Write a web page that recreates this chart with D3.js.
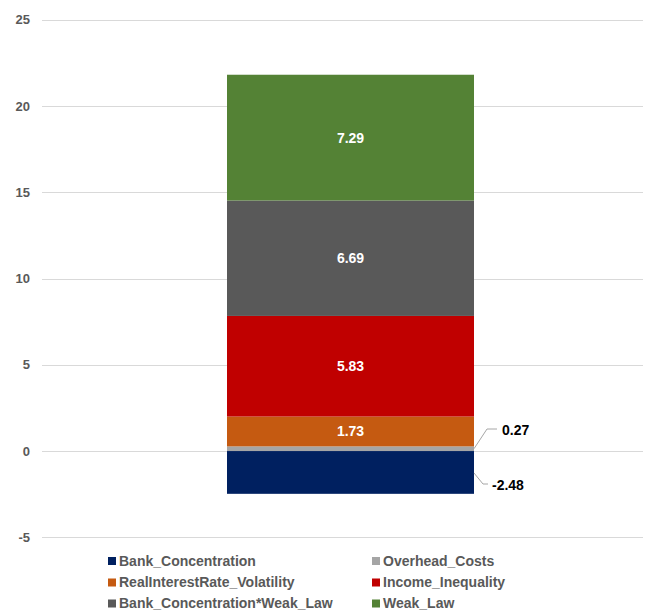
<!DOCTYPE html>
<html>
<head>
<meta charset="utf-8">
<script src="https://cdn.jsdelivr.net/npm/d3@7"></script>
<style>
  html, body { margin: 0; padding: 0; background: #fff; }
  svg { display: block; font-family: "Liberation Sans", Arial, sans-serif; }
</style>
</head>
<body>
<svg id="chart" width="645" height="610"></svg>
<script>
// Contribution components, stacked in this order
const seriesNames = [
  "Bank_Concentration",
  "Overhead_Costs",
  "RealInterestRate_Volatility",
  "Income_Inequality",
  "Bank_Concentration*Weak_Law",
  "Weak_Law"
];
const seriesValues = [-2.48, 0.27, 1.73, 5.83, 6.69, 7.29];
const seriesColors = ["#002060", "#a5a5a5", "#c55a11", "#c00000", "#595959", "#548235"];
const yTicks = [-5, 0, 5, 10, 15, 20, 25];

const svg = d3.select("#chart");

const y = d3.scaleLinear().domain([-5, 25]).range([537.3, 19.7]);

// gridlines
svg.append("g")
  .selectAll("line")
  .data(yTicks)
  .join("line")
  .attr("x1", 42).attr("x2", 643)
  .attr("y1", d => Math.round(y(d)) + 0.5)
  .attr("y2", d => Math.round(y(d)) + 0.5)
  .attr("stroke", "#d9d9d9").attr("stroke-width", 1);

// y axis labels (plain hyphen for negatives)
const yAxis = d3.axisLeft(y).tickValues(yTicks).tickSize(0).tickPadding(0)
  .tickFormat(d => String(d));
const gy = svg.append("g").attr("transform", "translate(30,0)").call(yAxis);
gy.select(".domain").remove();
gy.selectAll("text")
  .attr("fill", "#595959")
  .attr("font-size", 13)
  .attr("font-weight", "bold")
  .attr("font-family", "'Liberation Sans', Arial, sans-serif");

// stack positives upward from zero, negatives downward
let posBase = 0, negBase = 0;
const segs = seriesValues.map((v, i) => {
  let y0, y1;
  if (v >= 0) { y0 = posBase; y1 = posBase + v; posBase = y1; }
  else { y0 = negBase + v; y1 = negBase; negBase = y0; }
  return { name: seriesNames[i], value: v, color: seriesColors[i], y0, y1 };
});

const barX = 227, barW = 247;

svg.append("g")
  .selectAll("rect")
  .data(segs)
  .join("rect")
  .attr("x", barX)
  .attr("width", barW)
  .attr("y", d => y(d.y1))
  .attr("height", d => y(d.y0) - y(d.y1))
  .attr("fill", d => d.color);

// inside labels for large segments
svg.append("g")
  .selectAll("text")
  .data(segs.filter(d => d.value > 1))
  .join("text")
  .attr("x", barX + barW / 2)
  .attr("y", d => y((d.y0 + d.y1) / 2))
  .attr("dy", "0.35em")
  .attr("text-anchor", "middle")
  .attr("fill", "#ffffff")
  .attr("font-size", 14)
  .attr("font-weight", "bold")
  .text(d => d.value.toFixed(2));

// outside labels with leader lines
const callouts = [
  { seg: segs[1], pts: [[474, y((segs[1].y0 + segs[1].y1) / 2)], [487, 429], [497, 429]], tx: 502, ty: 430 },
  { seg: segs[0], pts: [[474, 473], [483, 484], [488, 484]], tx: 492, ty: 485 }
];
callouts.forEach(c => {
  svg.append("polyline")
    .attr("points", c.pts.map(p => p.join(",")).join(" "))
    .attr("fill", "none")
    .attr("stroke", "#a6a6a6")
    .attr("stroke-width", 1);
  svg.append("text")
    .attr("x", c.tx).attr("y", c.ty)
    .attr("dy", "0.35em")
    .attr("fill", "#000000")
    .attr("font-size", 14)
    .attr("font-weight", "bold")
    .text(c.seg.value.toFixed(2));
});

// legend, two columns
const legend = svg.append("g");
const colX = [108, 372];
const rowY = [561, 582.5, 603.5];
seriesNames.forEach((name, i) => {
  const cx = colX[i % 2], cy = rowY[Math.floor(i / 2)];
  legend.append("rect")
    .attr("x", cx).attr("y", cy - 4)
    .attr("width", 8).attr("height", 8)
    .attr("fill", seriesColors[i]);
  legend.append("text")
    .attr("x", cx + 11).attr("y", cy)
    .attr("dy", "0.35em")
    .attr("fill", "#595959")
    .attr("font-size", 14)
    .attr("font-weight", "bold")
    .text(name);
});
</script>
</body>
</html>
